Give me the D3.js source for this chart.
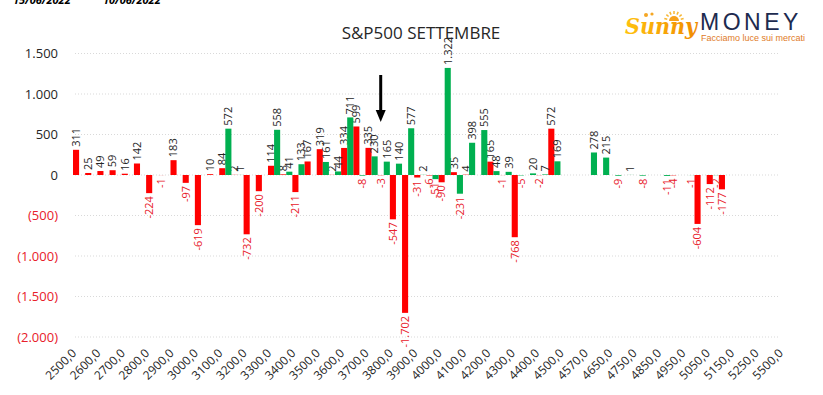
<!DOCTYPE html>
<html>
<head>
<meta charset="utf-8">
<script src="https://cdn.jsdelivr.net/npm/d3@7"></script>
<style>
  html, body { margin: 0; padding: 0; background: #fff; }
  svg { display: block; font-family: "Open Sans", sans-serif; }
</style>
</head>
<body>
<svg id="chart" width="823" height="395"></svg>
<script>
// strike (categorie dell'asse x)
const strikes = [
    2500, 2550, 2600, 2650, 2700, 2750, 2800, 2850, 2900, 2950,
    3000, 3050, 3100, 3150, 3200, 3250, 3300, 3350, 3400, 3450,
    3500, 3550, 3600, 3650, 3700, 3750, 3800, 3850, 3900, 3950,
    4000, 4050, 4100, 4150, 4200, 4250, 4300, 4350, 4400, 4450,
    4500, 4550, 4570, 4600, 4650, 4700, 4750, 4800, 4850, 4900,
    4950, 5000, 5050, 5100, 5150, 5200, 5250, 5300, 5500
];

// serie rossa (15/06/2022)
const redValues = [
    311, 25, 49, 59, 16, 142, -224, -1, 183, -97,
    -619, 10, 84, 2, -732, -200, 114, 8, -211, 167,
    319, 2, 334, 599, 335, -3, -547, -1702, -31, -6,
    -90, 35, 4, null, 165, -1, -768, null, -2, 572,
    null, null, null, null, null, null, null, null, null, -4,
    null, -604, -112, -177, null, null, null, null, null
];

// serie verde (10/06/2022)
const greenValues = [
    null, null, null, null, null, null, null, null, null, null,
    null, null, 572, 1, null, null, 558, 41, 133, null,
    161, 44, 711, -8, 230, 165, 140, 577, 2, -51,
    1322, -231, 398, 555, 48, 39, -5, 20, 7, 169,
    null, null, 278, 215, -9, 1, -8, null, -11, null,
    -1, null, -2, null, null, null, null, null, null
];

const yTicks = [-2000, -1500, -1000, -500, 0, 500, 1000, 1500];
const dateLabels = ["15/06/2022", "10/06/2022"];
const title = "S&P500 SETTEMBRE";
const arrowStrike = 3750;

const RED = "#ff0000";
const GREEN = "#00b050";
const NEG_TEXT = "#e8202a";

const locale = d3.formatLocale({decimal: ",", thousands: ".", grouping: [3], currency: ["", "€"], minus: "-"});
const fmt = locale.format(",d");

const svg = d3.select("#chart");

let xScale = d3.scaleBand()
                .domain(strikes)
                .range([73, 792])
                .padding(0);

let xSub = d3.scaleBand()
                .domain(["red", "green"])
                .range([0, xScale.bandwidth()]);

let yScale = d3.scaleLinear()
                .domain([-2000, 1500])
                .range([337, 53.5]);

// griglia
svg.append("g")
    .selectAll("line")
    .data(yTicks)
    .join("line")
    .attr("x1", 75)
    .attr("x2", 778)
    .attr("y1", d => yScale(d))
    .attr("y2", d => yScale(d))
    .attr("stroke", "#d9d9d9")
    .attr("stroke-dasharray", "1,2");

// asse y
let yAxis = d3.axisLeft(yScale)
                .tickValues(yTicks)
                .tickSize(0)
                .tickPadding(0)
                .tickFormat(d => d > 0 ? fmt(d) : d < 0 ? `(${fmt(-d)})` : "0");

svg.append("g")
    .attr("transform", "translate(58, 0)")
    .call(yAxis)
    .call(g => g.select(".domain").remove())
    .selectAll("text")
    .attr("font-size", 13)
    .attr("font-family", "Open Sans")
    .attr("fill", d => d < 0 ? NEG_TEXT : "#262626");

// asse x
let xAxis = d3.axisBottom(xScale)
                .tickValues(strikes.filter((d, i) => i % 2 === 0))
                .tickSize(0)
                .tickFormat(d => d.toFixed(1).replace(".", ","));

svg.append("g")
    .attr("transform", "translate(0, 351)")
    .call(xAxis)
    .call(g => g.select(".domain").remove())
    .selectAll("text")
    .attr("x", 0)
    .attr("y", 0)
    .attr("dy", "0.35em")
    .attr("text-anchor", "end")
    .attr("transform", "translate(-5, 0) rotate(-45)")
    .attr("font-size", 12)
    .attr("font-family", "Open Sans")
    .attr("fill", "#262626");

// barre + etichette
const series = [
    {key: "red", color: RED, values: redValues},
    {key: "green", color: GREEN, values: greenValues}
];

series.forEach(s => {
    const data = strikes
        .map((k, i) => ({k, v: s.values[i]}))
        .filter(d => d.v !== null);

    svg.append("g")
        .selectAll("rect")
        .data(data)
        .join("rect")
        .attr("x", d => xScale(d.k) + xSub(s.key))
        .attr("width", xSub.bandwidth())
        .attr("y", d => yScale(Math.max(d.v, 0)))
        .attr("height", d => Math.abs(yScale(d.v) - yScale(0)))
        .attr("fill", s.color);

    svg.append("g")
        .selectAll("text")
        .data(data)
        .join("text")
        .each(function (d) {
            const cx = xScale(d.k) + xSub(s.key) + xSub.bandwidth() / 2;
            const cy = d.v >= 0 ? yScale(d.v) - 3 : yScale(d.v) + 3;
            d3.select(this)
                .attr("x", cx)
                .attr("y", cy)
                .attr("transform", `rotate(-90, ${cx}, ${cy})`);
        })
        .attr("dy", "0.35em")
        .attr("text-anchor", d => d.v >= 0 ? "start" : "end")
        .attr("font-size", 11)
        .attr("fill", d => d.v < 0 ? NEG_TEXT : "#262626")
        .text(d => fmt(d.v));
});

// titolo
svg.append("text")
    .attr("x", 421)
    .attr("y", 39)
    .attr("text-anchor", "middle")
    .attr("font-size", 17)
    .attr("fill", "#262626")
    .text(title);

// date (tagliate in alto)
svg.selectAll(".date")
    .data(dateLabels)
    .join("text")
    .attr("class", "date")
    .attr("x", (d, i) => 13 + i * 90)
    .attr("y", 4)
    .attr("font-size", 11)
    .attr("font-weight", "bold")
    .attr("font-style", "italic")
    .attr("fill", "#000")
    .text(d => d);

// freccia
const ax = xScale(arrowStrike) + xSub.bandwidth() / 2;
svg.append("line")
    .attr("x1", ax).attr("x2", ax)
    .attr("y1", 75).attr("y2", 112)
    .attr("stroke", "#000")
    .attr("stroke-width", 3);
svg.append("path")
    .attr("d", `M${ax - 5},110 L${ax + 5},110 L${ax},122 Z`)
    .attr("fill", "#000");

// logo
const logo = svg.append("g");
const grad = svg.append("defs").append("linearGradient")
    .attr("id", "sunny").attr("x1", "0").attr("x2", "1");
grad.append("stop").attr("offset", "0").attr("stop-color", "#ffc20e");
grad.append("stop").attr("offset", "1").attr("stop-color", "#f08a00");

const sun = logo.append("g").attr("transform", "translate(674, 21)");
sun.append("path")
    .attr("d", d3.arc()({innerRadius: 0, outerRadius: 5, startAngle: -Math.PI / 2, endAngle: Math.PI / 2}))
    .attr("fill", "#f7a21b");
d3.range(-75, 76, 25).forEach(a => {
    const r = a * Math.PI / 180;
    sun.append("line")
        .attr("x1", Math.sin(r) * 7).attr("y1", -Math.cos(r) * 7)
        .attr("x2", Math.sin(r) * 10).attr("y2", -Math.cos(r) * 10)
        .attr("stroke", "#f7b733").attr("stroke-width", 1.5);
});
logo.append("circle").attr("cx", 646).attr("cy", 15).attr("r", 2).attr("fill", "#f5a623");
logo.append("circle").attr("cx", 652).attr("cy", 14).attr("r", 1.6).attr("fill", "#f5a623");

logo.append("text")
    .attr("x", 625)
    .attr("y", 34)
    .attr("font-family", "DejaVu Serif")
    .attr("font-size", 22)
    .attr("font-weight", "bold")
    .attr("font-style", "italic")
    .attr("textLength", 72)
    .attr("lengthAdjust", "spacingAndGlyphs")
    .attr("fill", "url(#sunny)")
    .text("Sunny");

logo.append("text")
    .attr("x", 700)
    .attr("y", 30)
    .attr("font-family", "Liberation Sans")
    .attr("font-size", 23)
    .attr("letter-spacing", 3.5)
    .attr("fill", "#1d2b4f")
    .text("MONEY");

logo.append("text")
    .attr("x", 701)
    .attr("y", 41)
    .attr("font-family", "Liberation Sans")
    .attr("font-size", 9)
    .attr("fill", "#e07a1f")
    .text("Facciamo luce sui mercati");
</script>
</body>
</html>
